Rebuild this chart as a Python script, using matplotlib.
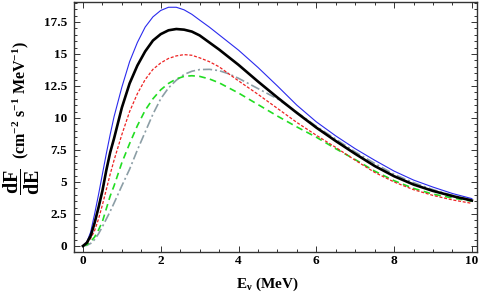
import matplotlib
matplotlib.use("Agg")
import matplotlib.pyplot as plt
from matplotlib.ticker import MultipleLocator

plt.rcParams['font.family'] = ['Liberation Serif', 'DejaVu Serif']
plt.rcParams['font.weight'] = 'bold'
plt.rcParams['mathtext.fontset'] = 'custom'
plt.rcParams['mathtext.rm'] = 'Liberation Serif:bold'
plt.rcParams['mathtext.bf'] = 'Liberation Serif:bold'
plt.rcParams['mathtext.it'] = 'Liberation Serif:bold'

# neutrino energy grid (MeV)
energy = [0, 0.1, 0.2, 0.3, 0.4, 0.5, 0.6, 0.7, 0.8, 1.0, 1.2, 1.4, 1.6, 1.8,
          2.0, 2.2, 2.4, 2.6, 2.8, 3.0, 3.25, 3.5, 3.75, 4.0, 4.5, 5.0, 5.5,
          6.0, 6.5, 7.0, 7.5, 8.0, 8.5, 9.0, 9.5, 10.0]

flux_blue = [0, 0.3, 1.1, 2.5, 4.0, 5.6, 7.2, 8.7, 10.1, 12.4, 14.4, 15.9, 17.1, 17.9,
             18.4, 18.65, 18.65, 18.45, 18.1, 17.65, 17.1, 16.5, 15.9, 15.3, 13.95, 12.5, 11.0,
             9.7, 8.6, 7.6, 6.7, 5.85, 5.15, 4.6, 4.1, 3.7]

flux_black = [0, 0.25, 0.8, 1.8, 3.0, 4.3, 5.9, 7.3, 8.4, 10.8, 12.7, 14.1, 15.2, 16.05,
              16.55, 16.85, 16.95, 16.9, 16.75, 16.45, 15.9, 15.35, 14.75, 14.15, 12.85, 11.6, 10.4,
              9.25, 8.2, 7.2, 6.25, 5.45, 4.8, 4.3, 3.9, 3.55]

flux_red = [0, 0.2, 0.6, 1.2, 2.1, 3.2, 4.4, 5.6, 6.7, 8.7, 10.5, 11.9, 13.0, 13.8,
            14.3, 14.65, 14.85, 14.95, 14.9, 14.7, 14.4, 14.0, 13.45, 12.9, 11.85, 10.75, 9.65,
            8.65, 7.7, 6.7, 5.75, 5.0, 4.4, 3.95, 3.6, 3.33]

flux_green = [0, 0.1, 0.35, 0.7, 1.25, 1.9, 2.9, 3.9, 4.7, 6.5, 8.0, 9.4, 10.6, 11.5,
              12.2, 12.7, 13.05, 13.25, 13.3, 13.25, 13.05, 12.75, 12.35, 11.95, 11.05, 10.15, 9.3,
              8.5, 7.6, 6.75, 5.85, 5.1, 4.5, 4.05, 3.75, 3.5]

flux_gray = [0, 0.05, 0.2, 0.5, 0.95, 1.5, 2.1, 2.7, 3.35, 4.7, 6.0, 7.5, 8.9, 10.3,
             11.5, 12.35, 12.95, 13.4, 13.65, 13.78, 13.8, 13.7, 13.45, 13.1, 12.3, 11.5, 10.45,
             9.35, 8.35, 7.35, 6.45, 5.6, 4.95, 4.4, 3.95, 3.6]

fig = plt.figure(figsize=(4.82, 3.0), dpi=100)
ax = fig.add_axes([0.1535, 0.16, 0.836, 0.8333])

ax.plot(energy, flux_gray, color="#8c9ea6", lw=1.2, linestyle=(0, (5.5, 1.8, 1.2, 1.8)))
ax.plot(energy, flux_green, color="#22dd22", lw=1.2, linestyle=(0, (4.0, 2.6)))
ax.plot(energy, flux_red, color="#ee2222", lw=0.9, linestyle=(0, (2.4, 1.4)))
ax.plot(energy, flux_blue, color="#2a2aee", lw=0.8)
ax.plot(energy, flux_black, color="black", lw=1.9)

ax.set_xlim(-0.23, 10.13)
ax.set_ylim(-0.47, 19.06)

ax.xaxis.set_major_locator(MultipleLocator(2))
ax.xaxis.set_minor_locator(MultipleLocator(0.5))
ax.yaxis.set_major_locator(MultipleLocator(2.5))
ax.yaxis.set_minor_locator(MultipleLocator(0.5))
ax.yaxis.set_major_formatter(plt.FuncFormatter(lambda v, p: f"{v:g}"))

ax.tick_params(which="both", direction="in", top=True, right=True, labelsize=9.5,
               width=0.7, colors="#333333", labelcolor="black")
ax.tick_params(which="major", length=4)
ax.tick_params(which="minor", length=2.2)
ax.tick_params(axis="x", which="major", pad=2.5)
ax.tick_params(axis="y", which="major", pad=5)
for lbl in ax.get_xticklabels() + ax.get_yticklabels():
    lbl.set_fontweight("bold")
for s in ax.spines.values():
    s.set_linewidth(1.0)
    s.set_color("#333333")

ax.set_xlabel(r"E$_\nu$ (MeV)", fontsize=11, fontweight="bold")
ax.xaxis.set_label_coords(0.48, -0.095)

# y label: big fraction plus units, both rotated
fig.text(21.5 / 482, 1 - 182 / 300, r"$\dfrac{dF}{dE}$", rotation=90, fontsize=14.5,
         ha="center", va="center")
fig.text(21 / 482, 1 - 100 / 300, r"(cm$^{-2}$ s$^{-1}$ MeV$^{-1}$)", rotation=90,
         fontsize=11.5, fontweight="bold", ha="center", va="center")

fig.savefig("out.png", dpi=100)
